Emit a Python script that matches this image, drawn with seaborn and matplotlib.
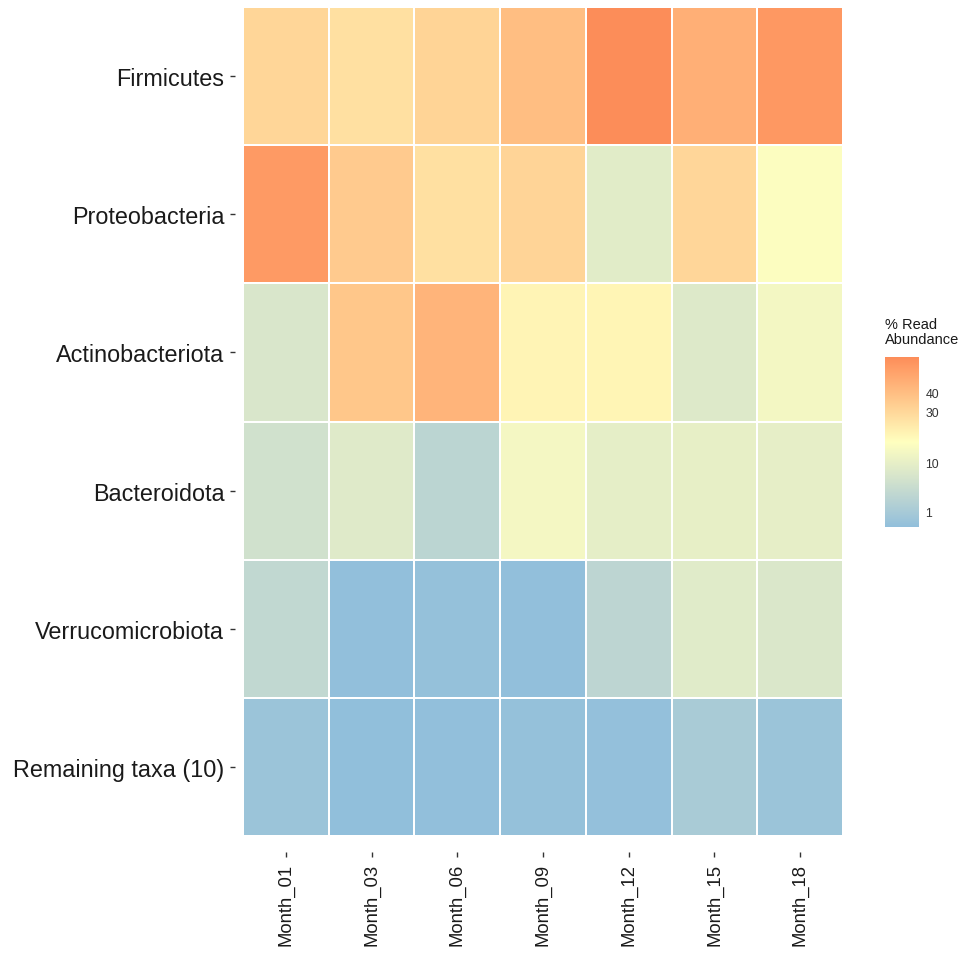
import numpy as np
import pandas as pd
import matplotlib
matplotlib.use("Agg")
import matplotlib.pyplot as plt
from matplotlib.colors import ListedColormap, FuncNorm
import seaborn as sns

# ---- data: % read abundance per phylum and sampling month ----
phyla = ["Firmicutes", "Proteobacteria", "Actinobacteriota", "Bacteroidota",
         "Verrucomicrobiota", "Remaining taxa (10)"]
months = ["Month_01", "Month_03", "Month_06", "Month_09", "Month_12",
          "Month_15", "Month_18"]

firmicutes = [30.3, 26.6, 31.0, 39.7, 62.5, 46.0, 56.8]
proteobacteria = [56.0, 34.6, 26.6, 30.8, 8.8, 30.0, 15.7]
actinobacteriota = [7.1, 36.0, 44.0, 19.9, 19.7, 7.9, 13.3]
bacteroidota = [5.5, 8.2, 2.6, 13.4, 9.6, 10.2, 9.8]
verrucomicrobiota = [3.2, 0.10, 0.17, 0.10, 2.75, 8.6, 7.3]
remaining = [0.35, 0.08, 0.10, 0.15, 0.13, 1.0, 0.35]

colorbar_ticks = [1, 10, 30, 40]
palette_hex = ["#91bfdb", "#ffffbf", "#fc8d59"]

df = pd.DataFrame([firmicutes, proteobacteria, actinobacteriota,
                   bacteroidota, verrucomicrobiota, remaining],
                  index=phyla, columns=months)


# ---- colour ramp interpolated in CIELAB ----
WHITE = np.array([0.95047, 1.0, 1.08883])
M = np.array([[0.4124564, 0.3575761, 0.1804375],
              [0.2126729, 0.7151522, 0.0721750],
              [0.0193339, 0.1191920, 0.9503041]])
Minv = np.linalg.inv(M)


def hex_to_rgb(h):
    h = h.lstrip("#")
    return np.array([int(h[i:i + 2], 16) for i in (0, 2, 4)]) / 255.0


def rgb_to_lab(rgb):
    lin = np.where(rgb <= 0.04045, rgb / 12.92, ((rgb + 0.055) / 1.055) ** 2.4)
    xyz = M @ lin / WHITE
    f = np.where(xyz > 0.008856, np.cbrt(xyz), 7.787 * xyz + 16 / 116)
    return np.array([116 * f[1] - 16, 500 * (f[0] - f[1]), 200 * (f[1] - f[2])])


def lab_to_rgb(lab):
    fy = (lab[0] + 16) / 116
    fx = fy + lab[1] / 500
    fz = fy - lab[2] / 200
    f = np.array([fx, fy, fz])
    xyz = np.where(f ** 3 > 0.008856, f ** 3, (f - 16 / 116) / 7.787) * WHITE
    lin = Minv @ xyz
    lin = np.clip(lin, 0, 1)
    rgb = np.where(lin <= 0.0031308, 12.92 * lin,
                   1.055 * lin ** (1 / 2.4) - 0.055)
    return np.clip(rgb, 0, 1)


labs = [rgb_to_lab(hex_to_rgb(h)) for h in palette_hex]
ramp = []
for t in np.linspace(0, 1, 512):
    seg = 0 if t <= 0.5 else 1
    u = (t - 0.5 * seg) / 0.5
    ramp.append(lab_to_rgb(labs[seg] * (1 - u) + labs[seg + 1] * u))
cmap = ListedColormap(ramp)

vmin, vmax = float(df.values.min()), float(df.values.max())
norm = FuncNorm((np.sqrt, np.square), vmin=vmin, vmax=vmax)

# ---- figure ----
sns.set_style("white")
plt.rcParams["font.family"] = ["Liberation Sans", "DejaVu Sans"]

fig = plt.figure(figsize=(9.68, 9.54), dpi=100)
ax = fig.add_axes([243 / 968, 1 - 837 / 954, 600 / 968, 829 / 954])
cax = fig.add_axes([885 / 968, 1 - 528 / 954, 34 / 968, 170 / 954])

sns.heatmap(df, cmap=cmap, norm=norm, linewidths=1.1, linecolor="white",
            ax=ax, cbar_ax=cax, cbar_kws={"ticks": colorbar_ticks})

for s in ax.spines.values():
    s.set_visible(False)
ax.spines["left"].set_position(("outward", 6))
ax.spines["bottom"].set_position(("outward", 11.5))

ax.set_xlabel("")
ax.set_ylabel("")
ax.tick_params(axis="both", which="major", length=3.8, width=1.0,
               color="#333333", left=True, bottom=True)
ax.tick_params(axis="y", pad=3.6, labelsize=16.8, labelcolor="#1a1a1a")
ax.tick_params(axis="x", pad=4.3, labelsize=13.3, labelcolor="#1a1a1a")
plt.setp(ax.get_yticklabels(), rotation=0)
plt.setp(ax.get_xticklabels(), rotation=90, ha="center", va="top")

# colorbar styling
cbar = ax.collections[0].colorbar
cbar.outline.set_visible(False)
cbar.set_ticklabels([str(t) for t in colorbar_ticks])
cax.tick_params(axis="y", direction="in", length=5, width=0.9, color="white",
                left=True, right=True, labelleft=False, labelright=True,
                labelsize=8.8, labelcolor="#333333", pad=4.5)
cax.minorticks_off()

fig.text(885 / 968, 1 - 318 / 954, "% Read\nAbundance", ha="left", va="top",
         fontsize=10.5, color="#1a1a1a", linespacing=1.05)

fig.savefig("out.png", dpi=100, facecolor="white")
